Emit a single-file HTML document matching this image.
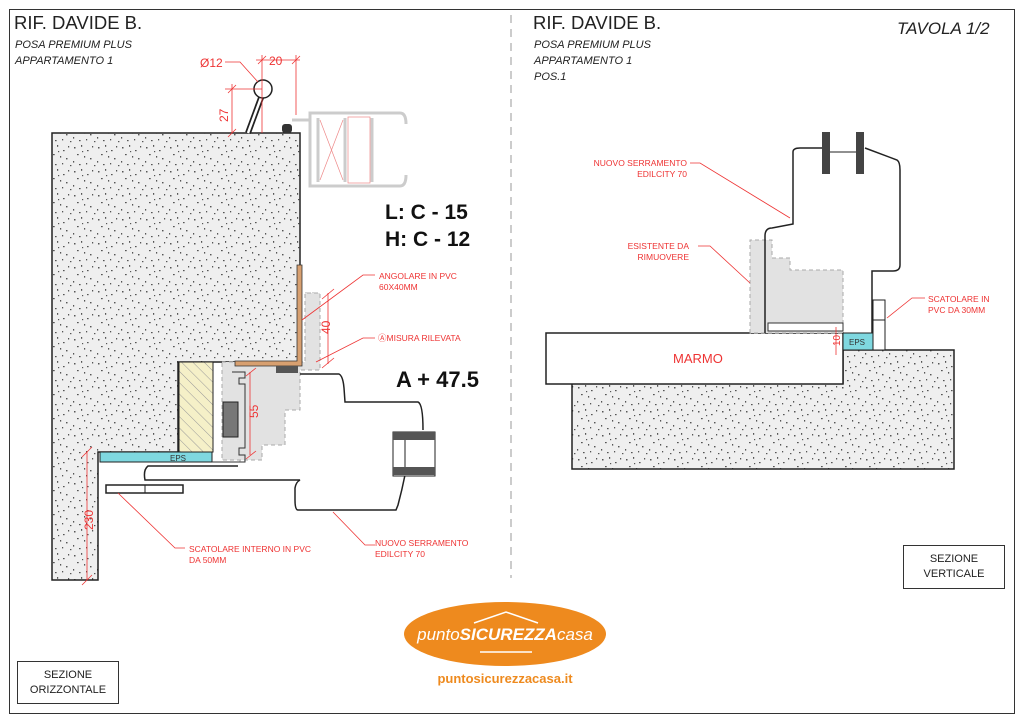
<!DOCTYPE html>
<html><head><meta charset="utf-8"><style>
html,body{margin:0;padding:0;background:#fff;}
svg{display:block;font-family:"Liberation Sans",Arial,sans-serif;}
</style></head><body>
<svg width="1024" height="724" viewBox="0 0 1024 724" xmlns="http://www.w3.org/2000/svg">
<defs>
<pattern id="conc" width="24" height="24" patternUnits="userSpaceOnUse">
<rect width="24" height="24" fill="#efefef"/>
<g fill="#555">
<rect x="2" y="3" width="1.5" height="1.5"/><rect x="9" y="1" width="1.2" height="1.8"/><rect x="15" y="6" width="1.6" height="1.2"/>
<rect x="20" y="2" width="1.2" height="1.5"/><rect x="5" y="10" width="1.7" height="1.2"/><rect x="12" y="12" width="1.2" height="1.6"/>
<rect x="18" y="14" width="1.5" height="1.4"/><rect x="1" y="17" width="1.2" height="1.6"/><rect x="7" y="20" width="1.6" height="1.2"/>
<rect x="14" y="19" width="1.2" height="1.4"/><rect x="22" y="21" width="1.4" height="1.2"/><rect x="10" y="7" width="1.2" height="1.2"/>
</g></pattern>
<pattern id="hatch" width="8" height="8" patternUnits="userSpaceOnUse" patternTransform="rotate(-45)">
<rect width="8" height="8" fill="#f5f0c8"/><line x1="0" y1="0" x2="0" y2="8" stroke="#999" stroke-width="1"/></pattern>
</defs>
<rect x="9.5" y="9.5" width="1005" height="704" fill="none" stroke="#333" stroke-width="1"/>
<line x1="511" y1="15" x2="511" y2="578" stroke="#999" stroke-dasharray="8,6"/>

<text x="14" y="29" font-size="18.5" fill="#222">RIF. DAVIDE B.</text>
<text x="15" y="48" font-size="11" font-style="italic" fill="#222">POSA PREMIUM PLUS</text>
<text x="15" y="64" font-size="11" font-style="italic" fill="#222">APPARTAMENTO 1</text>
<text x="533" y="29" font-size="18.5" fill="#222">RIF. DAVIDE B.</text>
<text x="534" y="48" font-size="11" font-style="italic" fill="#222">POSA PREMIUM PLUS</text>
<text x="534" y="64" font-size="11" font-style="italic" fill="#222">APPARTAMENTO 1</text>
<text x="534" y="80" font-size="11" font-style="italic" fill="#222">POS.1</text>
<text x="897" y="34" font-size="17" font-style="italic" fill="#222">TAVOLA 1/2</text>

<path d="M52 133 H300 V362 H178 V452 H98 V580 H52 Z" fill="url(#conc)" stroke="#222" stroke-width="1.5"/>
<line x1="248" y1="133" x2="262" y2="95" stroke="#222" stroke-width="6"/>
<line x1="248" y1="133" x2="262" y2="95" stroke="#fff" stroke-width="2.5"/>
<circle cx="263" cy="89" r="9" fill="#fff" stroke="#222" stroke-width="1.5"/>
<rect x="282" y="124" width="10" height="9" rx="3" fill="#333"/>
<g fill="none" stroke="#ccc" stroke-width="3">
<path d="M292 120 H310 V113 H400 Q406 113 406 124"/>
<path d="M310 113 V186 H400 Q406 186 406 175"/>
<line x1="318" y1="118" x2="318" y2="182"/><line x1="345" y1="118" x2="345" y2="182"/><line x1="372" y1="118" x2="372" y2="182"/>
</g>
<path d="M320 120 L343 180 M343 120 L320 180" stroke="#e88" stroke-width="0.7"/>
<rect x="348" y="117" width="22" height="66" fill="none" stroke="#e88" stroke-width="0.7"/>
<g stroke="#e33" stroke-width="0.8" fill="none">
<line x1="262" y1="55" x2="262" y2="133"/><line x1="296" y1="55" x2="296" y2="115"/>
<line x1="256" y1="60" x2="300" y2="60"/><line x1="258" y1="64" x2="266" y2="56"/><line x1="292" y1="64" x2="300" y2="56"/>
<path d="M225 62 H240 L258 82"/>
<line x1="225" y1="89" x2="262" y2="89"/><line x1="232" y1="84" x2="232" y2="133"/>
<line x1="228" y1="93" x2="236" y2="85"/><line x1="228" y1="137" x2="236" y2="129"/>
</g>
<text x="200" y="67" font-size="12" fill="#e33">Ø12</text>
<text x="269" y="65" font-size="12" fill="#e33">20</text>
<text x="228" y="122" font-size="12" fill="#e33" transform="rotate(-90 228 122)">27</text>
<text x="385" y="219" font-size="21" font-weight="bold" fill="#111">L: C - 15</text>
<text x="385" y="246" font-size="21" font-weight="bold" fill="#111">H: C - 12</text>
<text x="396" y="387" font-size="22" font-weight="bold" fill="#111">A + 47.5</text>

<path d="M305 293 H315 V362 H296 V372 H240 V462 H100" fill="none" stroke="#aaa" stroke-dasharray="4,3"/>
<path d="M222 362 H305 V293 H320 V370 H300 V410 H285 V445 H262 V460 H222 Z" fill="#e2e2e2" stroke="#aaa" stroke-dasharray="4,3"/>
<path d="M297 265 H302 V366 H235 V361 H297 Z" fill="#d8a070" stroke="#333" stroke-width="0.8"/>
<rect x="276" y="366" width="22" height="7" fill="#555"/>
<rect x="179" y="362" width="34" height="90" fill="url(#hatch)" stroke="#222"/>
<rect x="100" y="452" width="112" height="10" fill="#7fd8e0" stroke="#222"/>
<text x="170" y="461" font-size="8" fill="#333">EPS</text>
<path d="M232 372 H245 V378 H239 V384 H245 V448 H239 V455 H245 V462 H212" fill="none" stroke="#333"/>
<rect x="223" y="402" width="15" height="35" fill="#777" stroke="#222"/>
<path d="M300 374 H339 Q343 376 344 388 L345 402 H418 Q423 404 423 430 M405 475 Q402 490 398 505 L396 510 H298 Q295 510 295 500 V488 Q296 482 300 480 H145 Q143 470 148 466 H238" fill="none" stroke="#222" stroke-width="1.5"/>
<rect x="393" y="432" width="42" height="44" fill="#fff" stroke="#222"/>
<rect x="393" y="432" width="42" height="8" fill="#555"/>
<rect x="393" y="467" width="42" height="8" fill="#555"/>
<line x1="405" y1="440" x2="405" y2="467" stroke="#222"/>
<rect x="106" y="485" width="77" height="8" fill="#fff" stroke="#222" stroke-width="1.5"/>
<line x1="145" y1="485" x2="145" y2="493" stroke="#222"/>
<g stroke="#e33" stroke-width="0.8" fill="none">
<line x1="328" y1="293" x2="328" y2="364"/><line x1="322" y1="299" x2="334" y2="289"/><line x1="322" y1="368" x2="334" y2="358"/>
<path d="M302 320 L363 275 H375"/><path d="M316 362 L363 338 H375"/>
<line x1="250" y1="372" x2="250" y2="455"/><line x1="246" y1="376" x2="256" y2="368"/><line x1="246" y1="459" x2="256" y2="451"/>
<line x1="87" y1="452" x2="87" y2="580"/><line x1="82" y1="457" x2="92" y2="447"/><line x1="82" y1="585" x2="92" y2="575"/>
<path d="M118 493 L175 548 H185"/><path d="M333 512 L365 545 H375"/>
</g>
<text x="330" y="334" font-size="12" fill="#e33" transform="rotate(-90 330 334)">40</text>
<text x="258" y="418" font-size="12" fill="#e33" transform="rotate(-90 258 418)">55</text>
<text x="93" y="530" font-size="12" fill="#e33" transform="rotate(-90 93 530)">230</text>
<g font-size="8.5" fill="#e33">
<text x="379" y="279">ANGOLARE IN PVC</text><text x="379" y="290">60X40MM</text>
<text x="378" y="341">ⒶMISURA RILEVATA</text>
<text x="189" y="552">SCATOLARE INTERNO IN PVC</text><text x="189" y="563">DA 50MM</text>
<text x="375" y="546">NUOVO SERRAMENTO</text><text x="375" y="557">EDILCITY 70</text>
</g>

<path d="M572 383 V469 H954 V350 H843 V383 Z" fill="url(#conc)" stroke="#222" stroke-width="1.5"/>
<rect x="546" y="333" width="297" height="51" fill="#fff" stroke="#222" stroke-width="1.5"/>
<text x="673" y="363" font-size="13" fill="#e33">MARMO</text>
<path d="M750 333 V240 H772 V258 H790 V270 H843 V333 Z" fill="#e2e2e2" stroke="#aaa" stroke-dasharray="4,3"/>
<path d="M765 333 V236 Q765 228 772 228 L793 224 V152 Q793 148 800 148 H822 M865 148 L897 160 Q900 162 900 170 V265 Q900 271 893 271 H872 V333" fill="none" stroke="#222" stroke-width="1.5"/>
<rect x="822" y="132" width="8" height="42" fill="#444"/><rect x="856" y="132" width="8" height="42" fill="#444"/>
<line x1="830" y1="152" x2="856" y2="152" stroke="#222"/>
<rect x="768" y="323" width="75" height="8" fill="#fff" stroke="#333"/>
<rect x="843" y="333" width="30" height="17" fill="#7fd8e0" stroke="#222"/>
<text x="849" y="345" font-size="8" fill="#333">EPS</text>
<rect x="873" y="300" width="12" height="50" fill="#fff" stroke="#222"/><line x1="873" y1="320" x2="885" y2="320" stroke="#222"/>
<g stroke="#e33" stroke-width="0.8" fill="none">
<path d="M790 218 L700 163 H690"/><path d="M750 283 L710 246 H698"/><path d="M887 318 L912 298 H925"/>
<line x1="836" y1="327" x2="836" y2="355"/>
</g>
<text x="840" y="346" font-size="10" fill="#e33" transform="rotate(-90 840 346)">10</text>
<g font-size="8.5" fill="#e33">
<text x="687" y="166" text-anchor="end">NUOVO SERRAMENTO</text><text x="687" y="177" text-anchor="end">EDILCITY 70</text>
<text x="689" y="249" text-anchor="end">ESISTENTE DA</text><text x="689" y="260" text-anchor="end">RIMUOVERE</text>
<text x="928" y="302">SCATOLARE IN</text><text x="928" y="313">PVC DA 30MM</text>
</g>

<rect x="17.5" y="661.5" width="101" height="42" fill="#fff" stroke="#333"/>
<text x="68" y="678" font-size="11" text-anchor="middle" fill="#222">SEZIONE</text>
<text x="68" y="693" font-size="11" text-anchor="middle" fill="#222">ORIZZONTALE</text>
<rect x="903.5" y="545.5" width="101" height="43" fill="#fff" stroke="#333"/>
<text x="954" y="562" font-size="11" text-anchor="middle" fill="#222">SEZIONE</text>
<text x="954" y="577" font-size="11" text-anchor="middle" fill="#222">VERTICALE</text>

<ellipse cx="505" cy="634" rx="101" ry="32" fill="#ee8a1e"/>
<path d="M474 623 L506 612 L538 623" fill="none" stroke="#fff" stroke-width="1.5"/>
<line x1="480" y1="652" x2="532" y2="652" stroke="#fff" stroke-width="1.5"/>
<text x="505" y="640" font-size="17" text-anchor="middle" fill="#fff" font-style="italic">punto<tspan font-weight="bold">SICUREZZA</tspan>casa</text>
<text x="505" y="683" font-size="13" font-weight="bold" text-anchor="middle" fill="#ee8a1e">puntosicurezzacasa.it</text>
</svg>
</body></html>
